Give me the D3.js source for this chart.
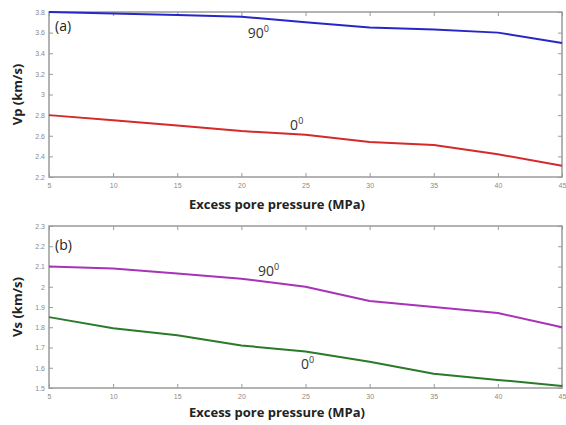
<!DOCTYPE html>
<html><head><meta charset="utf-8">
<script src="https://cdn.jsdelivr.net/npm/d3@7"></script>
<style>body{margin:0;background:#fff}svg{display:block}</style>
</head><body><svg id="c" width="566" height="425"></svg>
<script>
const pressure = [5,10,15,20,25,30,35,40,45];
const vp90 = [3.80,3.785,3.77,3.755,3.70,3.65,3.63,3.60,3.50];
const vp0  = [2.80,2.75,2.70,2.645,2.61,2.54,2.51,2.42,2.31];
const vs90 = [2.10,2.09,2.066,2.04,2.00,1.93,1.90,1.87,1.80];
const vs0  = [1.85,1.795,1.76,1.71,1.68,1.63,1.57,1.54,1.51];
const xTicks = [5,10,15,20,25,30,35,40,45];
const vpTicks = [2.2,2.4,2.6,2.8,3,3.2,3.4,3.6,3.8];
const vsTicks = [1.5,1.6,1.7,1.8,1.9,2,2.1,2.2,2.3];

const svg = d3.select('#c');
const L = 49, R = 562;
const x = d3.scaleLinear().domain([5,45]).range([L,R]);
const fmt = d => String(d);

function panel(top, bottom, yDomain, yTicks, ylabel, tag, series, labels, xlabelY){
  const y = d3.scaleLinear().domain(yDomain).range([bottom, top]);
  const g = svg.append('g');
  const axColor = '#9a9a9a';
  g.append('rect').attr('x',L).attr('y',top).attr('width',R-L).attr('height',bottom-top)
    .attr('fill','none').attr('stroke',axColor).attr('stroke-width',1.5);
  const tl = 4;
  const xb = g.append('g').attr('transform',`translate(0,${bottom})`)
    .call(d3.axisBottom(x).tickValues(xTicks).tickFormat(fmt).tickSize(-tl).tickPadding(6));
  const xt = g.append('g').attr('transform',`translate(0,${top})`)
    .call(d3.axisTop(x).tickValues(xTicks).tickFormat('').tickSize(-tl));
  const yl = g.append('g').attr('transform',`translate(${L},0)`)
    .call(d3.axisLeft(y).tickValues(yTicks).tickFormat(fmt).tickSize(-tl).tickPadding(4));
  const yr = g.append('g').attr('transform',`translate(${R},0)`)
    .call(d3.axisRight(y).tickValues(yTicks).tickFormat('').tickSize(-tl));
  [xb,xt,yl,yr].forEach(a=>{
    a.select('.domain').remove();
    a.selectAll('line').attr('stroke',axColor).attr('stroke-width',1);
    a.selectAll('text').attr('fill','#8a8a8a').style('font-family','Arial, sans-serif').style('font-size','7px');
  });
  const line = d3.line().x((d,i)=>x(pressure[i])).y(d=>y(d));
  series.forEach(s=>{
    g.append('path').datum(s.v).attr('d',line).attr('fill','none')
      .attr('stroke',s.c).attr('stroke-width',2).attr('stroke-linejoin','round');
  });
  labels.forEach(lb=>{
    const t = g.append('text').attr('x',x(lb.xv)).attr('y',y(lb.yv))
      .attr('fill','#333').style('font-family','"Open Sans", sans-serif').style('font-size','14px');
    t.append('tspan').text(lb.t);
    t.append('tspan').attr('dy',-6).style('font-size','9px').text('0');
  });
  g.append('text').attr('x',L+6).attr('y',y(tag.yv)).attr('fill','#222')
    .style('font-family','"Open Sans", sans-serif').style('font-size','14px').text(tag.t);
  g.append('text').attr('transform',`translate(22,${(top+bottom)/2}) rotate(-90)`)
    .attr('text-anchor','middle').attr('fill','#222')
    .style('font-family','"Open Sans", sans-serif').style('font-weight','bold').style('font-size','13px')
    .text(ylabel);
  g.append('text').attr('x',277).attr('y',xlabelY).attr('text-anchor','middle').attr('fill','#222')
    .style('font-family','"Open Sans", sans-serif').style('font-weight','bold').style('font-size','13px')
    .text('Excess pore pressure (MPa)');
}

panel(12,177,[2.2,3.8],vpTicks,'Vp (km/s)',{t:'(a)',yv:3.62},
  [{v:vp90,c:'#2727c8'},{v:vp0,c:'#d42a2a'}],
  [{t:'90',xv:20.5,yv:3.545},{t:'0',xv:23.8,yv:2.66}], 209);
panel(226,388,[1.5,2.3],vsTicks,'Vs (km/s)',{t:'(b)',yv:2.18},
  [{v:vs90,c:'#a832b8'},{v:vs0,c:'#2a7a2a'}],
  [{t:'90',xv:21.3,yv:2.055},{t:'0',xv:24.65,yv:1.595}], 417);
</script></body></html>
